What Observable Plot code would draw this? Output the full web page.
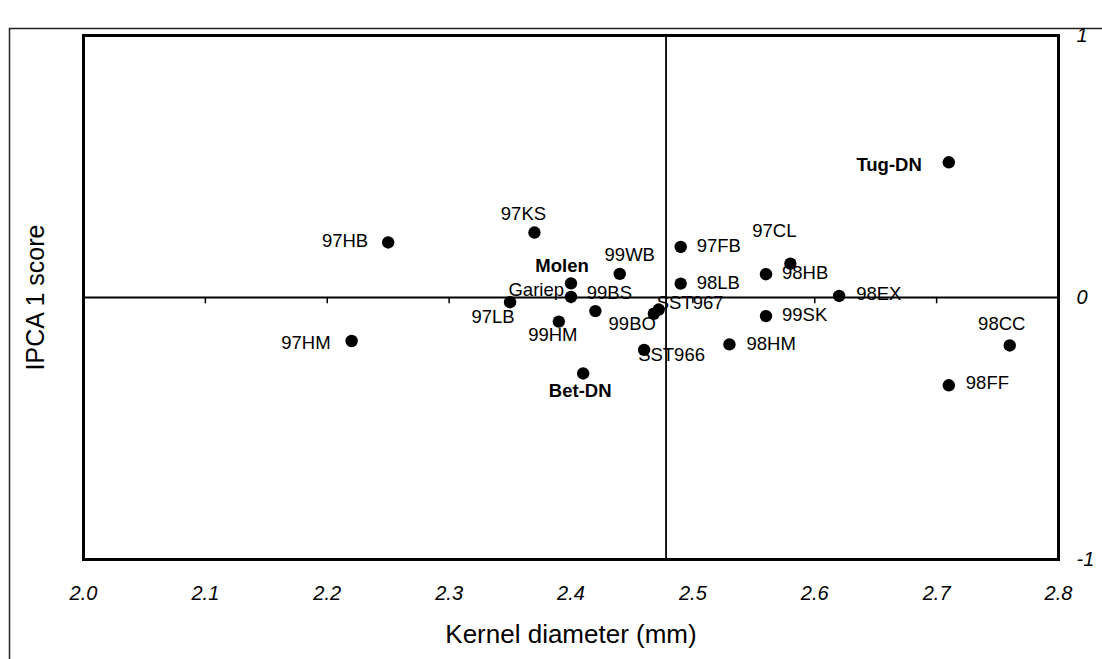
<!DOCTYPE html>
<html>
<head>
<meta charset="utf-8">
<script src="https://cdn.jsdelivr.net/npm/d3@7"></script>
<script src="https://cdn.jsdelivr.net/npm/@observablehq/plot@0.6"></script>
<style>
  html, body { margin: 0; padding: 0; background: #fff; }
</style>
</head>
<body>
<div id="chart"></div>
<script>
// ---- data ----
const names = ["97HM","97HB","97KS","97LB","Molen","Gariep","99HM","99BS","99BO","Bet-DN","99WB","SST967","SST966","97FB","98LB","97CL","98HB","98EX","99SK","98HM","Tug-DN","98CC","98FF"];
const diameter = [2.22,2.25,2.37,2.35,2.40,2.40,2.39,2.42,2.468,2.41,2.44,2.472,2.46,2.49,2.49,2.58,2.56,2.62,2.56,2.53,2.71,2.76,2.71];
const score = [-0.166,0.210,0.248,-0.018,0.054,0.002,-0.092,-0.052,-0.062,-0.290,0.090,-0.046,-0.200,0.193,0.053,0.129,0.089,0.006,-0.071,-0.179,0.516,-0.183,-0.335];
const xTicks = [2.0,2.1,2.2,2.3,2.4,2.5,2.6,2.7,2.8];
const yTicks = [-1,0,1];
const refX = [2.478];
const refY = [0];
const xTitle = "Kernel diameter (mm)";
const yTitle = "IPCA 1 score";

// ---- label layout (pixel offsets from each dot) ----
const placement = {
  "97HM":["end",-21,2], "97HB":["end",-20,-1], "97KS":["middle",-11,-18], "97LB":["middle",-17,15],
  "Molen":["middle",-9,-17], "Gariep":["end",-7,-7], "99HM":["middle",-6,13], "99BS":["middle",14,-18],
  "99BO":["end",2,10], "Bet-DN":["middle",-3,18], "99WB":["middle",10,-19], "SST967":["start",-2,-6],
  "SST966":["start",-6,5], "97FB":["start",16,-1], "98LB":["start",16,-1], "97CL":["middle",-16,-33],
  "98HB":["start",16,-1], "98EX":["start",17,-2], "99SK":["start",16,-1], "98HM":["start",17,0],
  "Tug-DN":["end",-27,3], "98CC":["middle",-8,-21], "98FF":["start",17,-2]
};
const boldNames = ["Tug-DN","Molen","Bet-DN"];

const idx = d3.range(names.length);
const labelMarks = idx.map(i => {
  const [anchor, dx, dy] = placement[names[i]];
  return Plot.text([i], {
    x: j => diameter[j], y: j => score[j], text: j => names[j],
    textAnchor: anchor, lineAnchor: "middle", dx, dy,
    fontSize: 18.5, fill: "#000",
    fontWeight: boldNames.includes(names[i]) ? "bold" : "normal"
  });
});

const chart = Plot.plot({
  width: 1102,
  height: 659,
  marginLeft: 83,
  marginRight: 44,
  marginTop: 35,
  marginBottom: 100,
  style: { fontFamily: "'Liberation Sans', Arial, sans-serif", background: "#fff", overflow: "visible", color: "#000" },
  x: { domain: [2.0, 2.8] },
  y: { domain: [-1, 1] },
  marks: [
    Plot.frame({ stroke: "#222", strokeWidth: 1.5, insetLeft: -74, insetTop: -7, insetRight: -60, insetBottom: -120 }),
    Plot.ruleY(refY, { strokeWidth: 1.8, stroke: "#000" }),
    Plot.ruleX(refX, { strokeWidth: 1.8, stroke: "#000" }),
    Plot.ruleX(xTicks, { x: d => d, y1: 0, y2: -0.024, strokeWidth: 1.5, stroke: "#000" }),
    Plot.axisX(xTicks, { anchor: "bottom", tickSize: 0, tickPadding: 26, tickFormat: d3.format(".1f"), fontSize: 20, fontStyle: "italic", label: null }),
    Plot.axisY(yTicks, { anchor: "right", tickSize: 0, tickPadding: 18, tickFormat: d => String(d), fontSize: 20, fontStyle: "italic", label: null }),
    Plot.text([xTitle], { frameAnchor: "bottom", textAnchor: "middle", lineAnchor: "middle", dy: 75, fontSize: 26, fill: "#000" }),
    Plot.text([yTitle], { frameAnchor: "left", textAnchor: "middle", lineAnchor: "middle", dx: -48, rotate: -90, fontSize: 25, fill: "#000" }),
    ...labelMarks,
    Plot.dot(idx, { x: i => diameter[i], y: i => score[i], r: 6.2, fill: "#000", stroke: "none" }),
    Plot.frame({ stroke: "#000", strokeWidth: 3 })
  ]
});
document.getElementById("chart").append(chart);
</script>
</body>
</html>
